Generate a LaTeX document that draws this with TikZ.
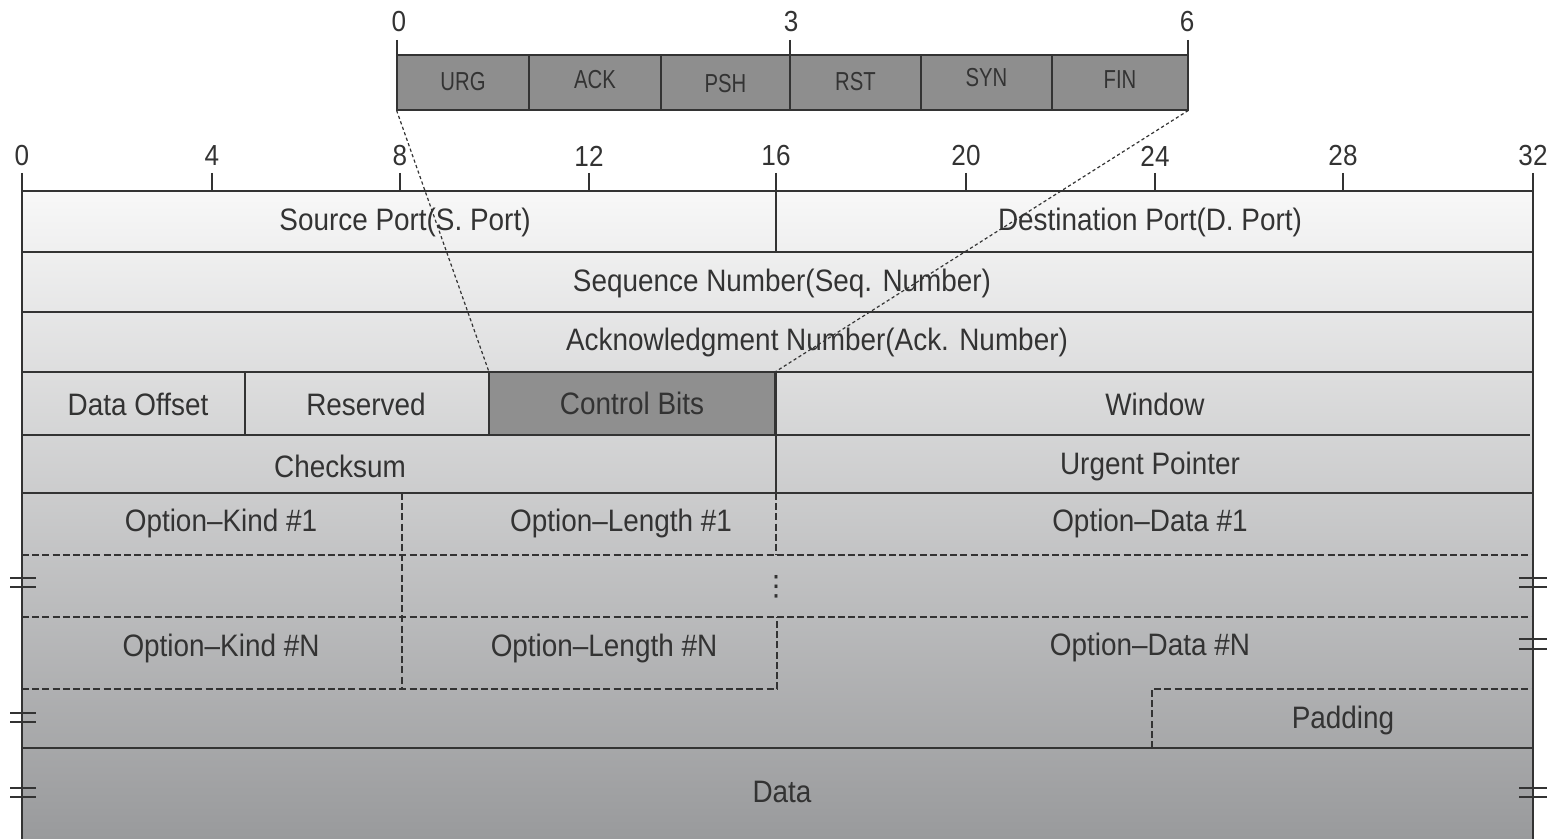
\documentclass[tikz,border=0pt]{standalone}
\usepackage{fontspec}
\setmainfont{Liberation Sans}
\newfontfamily\labf[FakeStretch=0.9]{Liberation Sans}
\newfontfamily\flagf[FakeStretch=0.78]{Liberation Sans}
\newfontfamily\symf{DejaVu Sans}
\usetikzlibrary{fit}
\definecolor{ink}{HTML}{333333}
\definecolor{gtop}{HTML}{F8F8F8}
\definecolor{gbot}{HTML}{999A9C}
\definecolor{ctrlgray}{HTML}{8F8F8F}
\definecolor{flaggray}{HTML}{8E8E8E}
\tikzset{
  lab/.style={font=\labf\fontsize{15.5}{18}\selectfont, text=ink, inner sep=0pt},
  num/.style={font=\labf\fontsize{14.5}{16}\selectfont, text=ink, inner sep=0pt},
  flagtxt/.style={font=\flagf\fontsize{13}{15}\selectfont, text=ink, inner sep=0pt},
  frame/.style={draw=ink, line width=0.9pt},
  optline/.style={draw=ink, line width=0.65pt, dash pattern=on 3.5pt off 1.6pt},
  linkline/.style={draw=ink, line width=0.6pt, dash pattern=on 1.6pt off 1.3pt},
  brk/.style={draw=ink, line width=0.7pt},
  cellbox/.style={inner sep=0pt, outer sep=0pt, frame}
}
\begin{document}
\begin{tikzpicture}[x=0.5pt,y=-0.5pt]
\useasboundingbox (0,0) rectangle (1548,839);

% ---------- background of the header ----------
\shade[top color=gtop, bottom color=gbot] (22,191) rectangle (1533,839);

% ---------- control bits cell ----------
\node[cellbox, fill=ctrlgray, fit={(489,372) (775,435)}] (ctrl) {};

% ---------- flag bar ----------
\foreach \i/\xa/\xb/\t/\dy in {0/397/529/URG/82,1/529/661/ACK/80,2/661/790/PSH/84,3/790/921/RST/82,4/921/1052/SYN/78,5/1052/1188/FIN/80}{
  \node[cellbox, fill=flaggray, fit={(\xa,55) (\xb,110)}] (f\i) {};
  \node[flagtxt] (ft\i) at ({(\xa+\xb)/2},\dy) {\t};
}
\node[inner sep=0pt, fit=(f0)(f5)] (flagbar) {};

% flag bar ticks
\coordinate (ft0a) at (397,40); \coordinate (ft3a) at (790,40); \coordinate (ft6a) at (1188,40);
\draw[frame] (ft0a) -- (f0.north west);
\draw[frame] (ft3a) -- (f3.north west);
\draw[frame] (ft6a) -- (f5.north east);
\node[num] (tn0) at (399,22) {0};
\node[num] (tn3) at (791,22) {3};
\node[num] (tn6) at (1187,22) {6};

% ---------- main ruler ----------
\foreach \b/\x in {0/22,4/212,8/400,12/589,16/776,20/966,24/1155,28/1343,32/1533}{
  \draw[frame] (\x,173) -- (\x,191);
  \node[num] (r\b) at (\x,156) {\b};
}

% ---------- frame ----------
\draw[frame] (22,839) -- (22,191) -- (1533,191) -- (1533,839);
\foreach \y in {252,312,372,493,748}{
  \draw[frame] (22,\y) -- (1533,\y);
}
\draw[frame] (22,435) -- (1530,435);
\draw[frame] (776,191) -- (776,252);
\draw[frame] (776,372) -- (776,493);
\draw[frame] (245,372) -- (245,435);
\draw[frame] (ctrl.north west) rectangle (ctrl.south east);

% ---------- option rows (dashed) ----------
\draw[optline] (22,555) -- (1533,555);
\draw[optline] (22,617) -- (1533,617);
\draw[optline] (22,689) -- (777,689) -- (777,617);
\draw[optline] (776,493) -- (776,555);
\draw[optline] (402,493) -- (402,689);
\draw[optline] (1152,748) -- (1152,689) -- (1533,689);

% ---------- break marks ----------
\foreach \y in {578,713,788}{
  \draw[brk] (10,\y) -- (36,\y);
  \draw[brk] (10,\y+9) -- (36,\y+9);
}
\foreach \y/\d in {578/9,639/10,788/9}{
  \draw[brk] (1519,\y) -- (1547,\y);
  \draw[brk] (1519,\y+\d) -- (1547,\y+\d);
}

% ---------- labels ----------
\node[lab] (sport) at (405,222) {Source Port(S. Port)};
\node[lab] (dport) at (1150,222) {Destination Port(D. Port)};
\node[lab] (seq) at (782,283) {Sequence Number(Seq. Number)};
\node[lab] (ack) at (817,342) {Acknowledgment Number(Ack. Number)};
\node[lab] (doff) at (138,404) {Data Offset};
\node[lab] (resv) at (366,404) {Reserved};
\node[lab] (ctrltxt) at (ctrl.center) {Control Bits};
\node[lab] (win) at (1155,404) {Window};
\node[lab] (csum) at (340,466) {Checksum};
\node[lab] (urg) at (1150,466) {Urgent Pointer};
\node[lab] (ok1) at (221,523) {Option–Kind \#1};
\node[lab] (ol1) at (621,523) {Option–Length \#1};
\node[lab] (od1) at (1150,523) {Option–Data \#1};
\node[font=\symf\fontsize{14}{16}\selectfont, text=ink, inner sep=0pt] (vd) at (776,587) {⋮};
\node[lab] (okn) at (221,648) {Option–Kind \#N};
\node[lab] (oln) at (604,648) {Option–Length \#N};
\node[lab] (odn) at (1150,647) {Option–Data \#N};
\node[lab] (pad) at (1343,720) {Padding};
\node[lab] (data) at (782,792) {Data};

% ---------- zoom connectors ----------
\draw[linkline] (flagbar.south west) -- (ctrl.north west);
\draw[linkline] (flagbar.south east) -- (ctrl.north east);
\end{tikzpicture}
\end{document}
